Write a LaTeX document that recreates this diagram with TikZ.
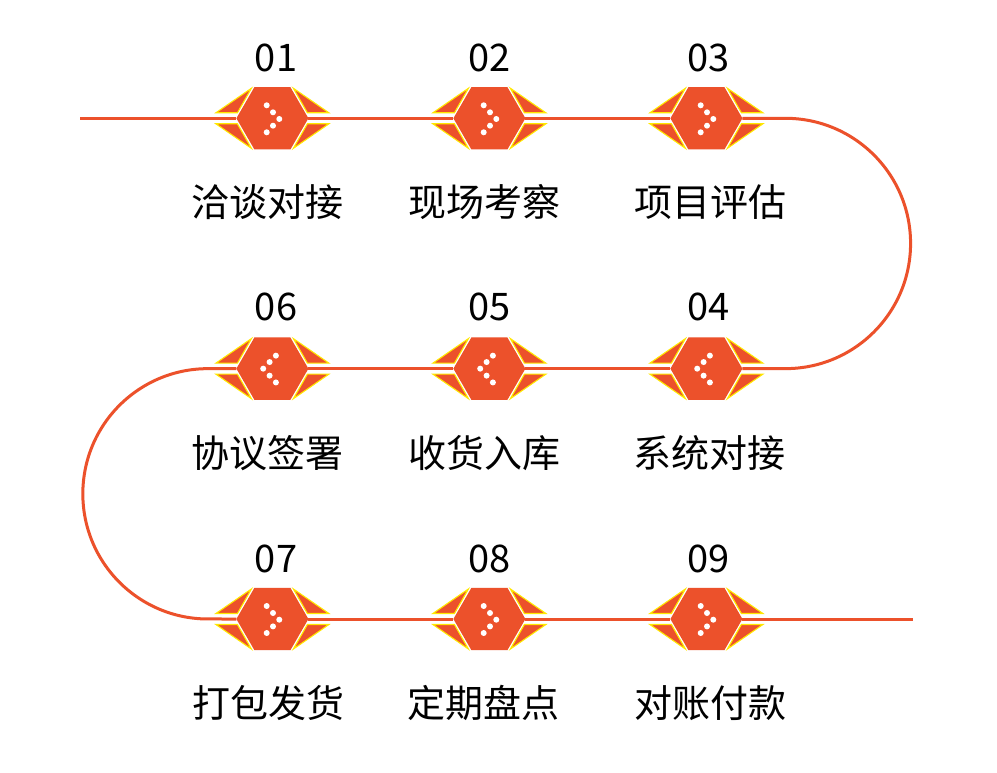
\documentclass[tikz,border=0pt]{standalone}
\usepackage{fontspec}
\setmainfont{Noto Sans CJK SC}
\usetikzlibrary{calc,positioning,shapes.geometric}
\definecolor{flow}{HTML}{EC512B}
\definecolor{rim}{HTML}{FFE800}
\tikzset{
  hex/.style={regular polygon,regular polygon sides=6,fill=flow,minimum size=72pt,inner sep=0pt,outer sep=0pt},
  wing/.style={fill=flow,draw=rim,line width=1.1pt,line join=miter},
  link/.style={draw=flow,line width=3pt},
  num/.style={font=\fontsize{38}{40}\selectfont,text=black,inner sep=0pt},
  lab/.style={font=\fontsize{38}{40}\selectfont,text=black,inner sep=0pt},
  dot/.style={fill=white,draw=none}
}
\newcommand{\wings}[1]{
  \foreach \sx in {-1,1} \foreach \sy in {-1,1}
    \filldraw[wing] ($(#1.center)+(\sx*56.5,\sy*5.5)$) -- ($(#1.center)+(\sx*35,\sy*5.5)$) -- ($(#1.center)+(\sx*21,\sy*30)$) -- cycle;
}
\newcommand{\dotsright}[1]{
  \foreach \dx/\dy in {-5.7/13,0.6/6,6.9/-0.7,0.6/-7.4,-5.7/-14}
    \fill[dot] ($(#1.center)+(\dx,\dy)$) circle (3);
}
\newcommand{\dotsleft}[1]{
  \foreach \dx/\dy in {3.5/13,-2.8/6.6,-9.2/0,-2.8/-7,3.5/-13.8}
    \fill[dot] ($(#1.center)+(\dx,\dy)$) circle (3);
}
\begin{document}
\begin{tikzpicture}[x=1pt,y=1pt,node distance=188pt and 145pt]
  \useasboundingbox (0,0) rectangle (997,772);
  \fill[white] (0,0) rectangle (997,772);
  \node[hex] (m1) at (272.4,653.7) {};
  \node[hex,right=of m1] (m2) {};
  \node[hex,right=of m2] (m3) {};
  \node[hex,below=of m3] (m4) {};
  \node[hex,left=of m4] (m5) {};
  \node[hex,left=of m5] (m6) {};
  \node[hex,below=of m6] (m7) {};
  \node[hex,right=of m7] (m8) {};
  \node[hex,right=of m8] (m9) {};
  \coordinate (start) at ($(m1.center)+(-192.4,0)$);
  \coordinate (end) at ($(m9.center)+(207,0)$);
  \coordinate (turna) at ($(m3.center)+(79,0)$);
  \coordinate (turnb) at ($(m6.center)+(-64.4,0)$);
  % wings and dots
  \wings{m1} \wings{m2} \wings{m3} \wings{m4} \wings{m5} \wings{m6} \wings{m7} \wings{m8} \wings{m9}
  \dotsright{m1} \dotsright{m2} \dotsright{m3}
  \dotsleft{m4} \dotsleft{m5} \dotsleft{m6}
  \dotsright{m7} \dotsright{m8} \dotsright{m9}
  % connectors
  \draw[link] (start) -- (m1.west); \draw[link] (m1.east) -- (m2.west); \draw[link] (m2.east) -- (m3.west);
  \draw[link] (m3.east) -- (turna) arc (90:-90:125.17) -- (m4.east);
  \draw[link] (m4.west) -- (m5.east); \draw[link] (m5.west) -- (m6.east);
  \draw[link] (m6.west) -- (turnb) arc (90:270:125.17) -- (m7.west);
  \draw[link] (m7.east) -- (m8.west); \draw[link] (m8.east) -- (m9.west); \draw[link] (m9.east) -- (end);
  % numbers
  \node[num] (n1) at (276,714) {01};
  \node[num] (n2) at (489.5,714) {02};
  \node[num] (n3) at (708.5,714) {03};
  \node[num] (n6) at (276,465) {06};
  \node[num] (n5) at (489.5,465) {05};
  \node[num] (n4) at (708.5,465) {04};
  \node[num] (n7) at (276,213) {07};
  \node[num] (n8) at (489.5,213) {08};
  \node[num] (n9) at (708.5,213) {09};
  % captions
  \node[lab] (l1) at (267.5,570) {洽谈对接};
  \node[lab] (l2) at (484,570) {现场考察};
  \node[lab] (l3) at (710,570) {项目评估};
  \node[lab] (l6) at (267.5,319) {协议签署};
  \node[lab] (l5) at (484,319) {收货入库};
  \node[lab] (l4) at (709,319) {系统对接};
  \node[lab] (l7) at (268,69) {打包发货};
  \node[lab] (l8) at (483,69) {定期盘点};
  \node[lab] (l9) at (710,69) {对账付款};
\end{tikzpicture}
\end{document}
